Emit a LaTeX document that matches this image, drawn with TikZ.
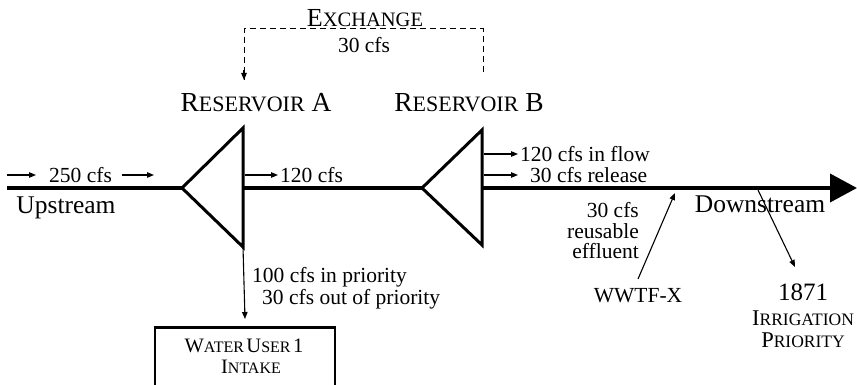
\documentclass[tikz,border=0pt]{standalone}
\usepackage{fontspec}
\setmainfont{Liberation Serif}
\usetikzlibrary{arrows.meta}
\newcommand{\ResBig}{\fontsize{27.5}{29}\selectfont}
\newcommand{\ResSm}{\fontsize{22}{24}\selectfont}
\newcommand{\ExBig}{\fontsize{26}{28}\selectfont}
\newcommand{\ExSm}{\fontsize{20.5}{22}\selectfont}
\newcommand{\BoxBig}{\fontsize{20.5}{22}\selectfont}
\newcommand{\BoxSm}{\fontsize{16}{18}\selectfont}
\begin{document}
\begin{tikzpicture}[x=1pt,y=-1pt,
  river/.style={line width=4pt},
  res/.style={line width=3pt,line join=miter},
  flow/.style={line width=1.1pt,-{Triangle[length=7pt,width=5.5pt]}},
  exline/.style={line width=1pt,dash pattern=on 6pt off 4pt},
  lbl/.style={font=\fontsize{21.5}{22}\selectfont,inner sep=0pt},
  biglbl/.style={font=\fontsize{25.5}{27}\selectfont,inner sep=0pt}]
\useasboundingbox (0,0) rectangle (857,385);
\clip (0,0) rectangle (857,385);
% river coordinates
\coordinate (s) at (7,188);
\coordinate (aL) at (182,188);
\coordinate (aT) at (243,128);
\coordinate (aB) at (243,247);
\coordinate (aM) at (243,188);
\coordinate (bL) at (422,188);
\coordinate (bT) at (482,130);
\coordinate (bB) at (482,245);
\coordinate (bM) at (482,188);
\coordinate (e) at (857,188);
% river
\draw[river] (s) -- (aL);
\draw[river] (aM) -- (bL);
\draw[river,-{Triangle[length=27pt,width=28pt]}] (bM) -- (e);
% reservoirs
\draw[res] (aT) -- (aL) -- (aB) -- cycle;
\draw[res] (bT) -- (bL) -- (bB) -- cycle;
% labels
\node[inner sep=0pt,font=\ResBig] (resA) at (256,103) {R{\ResSm ESERVOIR} A};
\node[inner sep=0pt,font=\ResBig] (resB) at (469,103) {R{\ResSm ESERVOIR} B};
\node[inner sep=0pt,font=\ExBig] (exch) at (365,18) {E{\ExSm XCHANGE}};
\node[lbl] (ex30) at (364,45) {30 cfs};
% exchange dashed
\coordinate (exB) at (483,72);
\coordinate (exC1) at (483,29);
\coordinate (exC2) at (244,29);
\coordinate (exA) at (244,80);
\draw[exline] (exB) -- (exC1) -- (exC2) -- (exA);
\draw[flow,dash pattern=on 6pt off 4pt] (244,70) -- (exA);
% upstream
\coordinate (u1a) at (7,175);
\coordinate (u1b) at (36,175);
\node[lbl,anchor=west] (t250) at (49,175) {250 cfs};
\coordinate (u2a) at (122,175);
\coordinate (u2b) at (154,175);
\draw[flow] (u1a) -- (u1b);
\draw[flow] (u2a) -- (u2b);
\node[biglbl,anchor=base] (up) at (66,213) {Upstream};
% 120 cfs
\coordinate (a120) at (245,175);
\node[lbl,anchor=west] (t120) at (280,175) {120 cfs};
\draw[flow] (a120) -- ([xshift=-2pt]t120.west);
% reservoir B outflows
\coordinate (b1) at (484,154);
\coordinate (b2) at (484,175);
\node[lbl,anchor=west] (tin) at (520,154) {120 cfs in flow};
\node[lbl,anchor=west] (trel) at (530,175) {30 cfs release};
\draw[flow] (b1) -- ([xshift=-2pt]tin.west);
\draw[flow] (b2) -- (518,175);
% intake
\node[draw,line width=2.5pt,minimum width=180pt,minimum height=72pt,anchor=north] (wu) at (245,326) {};
\node[inner sep=0pt,anchor=base] (wut1) at (244,352) {{\BoxBig W}{\BoxSm ATER} {\BoxBig U}{\BoxSm SER} {\BoxBig 1}};
\node[inner sep=0pt,anchor=base] (wut2) at (251,373) {{\BoxBig I}{\BoxSm NTAKE}};
\draw[flow] (aB) -- ([yshift=7pt]wu.north);
\node[lbl,anchor=base west] (tpri1) at (252,282) {100 cfs in priority};
\node[lbl,anchor=base west] (tpri2) at (262,304) {30 cfs out of priority};
% effluent
\node[lbl,anchor=base east] (teff1) at (639,217) {30 cfs};
\node[lbl,anchor=base east] (teff2) at (639,238) {reusable};
\node[lbl,anchor=base east] (teff3) at (639,258) {effluent};
\node[lbl] (wwtf) at (638,296) {WWTF-X};
\coordinate (wwb) at (638,279);
\coordinate (wwt) at (675,193);
\draw[flow] (wwb) -- (wwt);
% downstream
\node[biglbl,anchor=base] (down) at (760,212) {Downstream};
\coordinate (irt) at (758,190);
\node[inner sep=0pt,font=\fontsize{25}{27}\selectfont] (n1871) at (803,292) {1871};
\node[inner sep=0pt] (irr) at (803,318) {{\fontsize{22.5}{24}\selectfont I}{\fontsize{17.5}{19}\selectfont RRIGATION}};
\node[inner sep=0pt] (pri) at (803,340) {{\fontsize{22.5}{24}\selectfont P}{\fontsize{17.5}{19}\selectfont RIORITY}};
\coordinate (irb) at (795,267);
\draw[flow] (irt) -- (irb);
\end{tikzpicture}
\end{document}
